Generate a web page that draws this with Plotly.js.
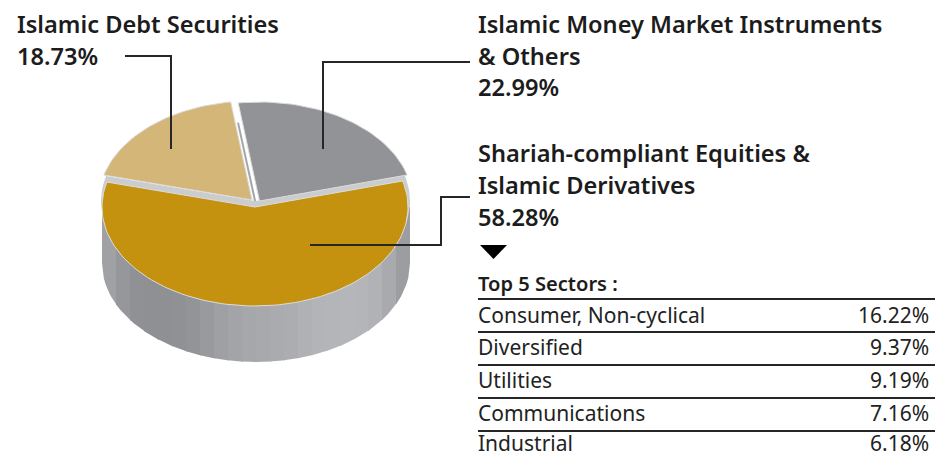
<!DOCTYPE html>
<html><head><meta charset="utf-8">
<script src="https://cdn.plot.ly/plotly-3.0.1.min.js"></script>
<style>html,body{margin:0;padding:0;background:#fff}#c{width:935px;height:458px}</style>
</head><body><div id="c"></div>
<script>
// Data
const sliceNames = ["Islamic Money Market Instruments & Others", "Shariah-compliant Equities & Islamic Derivatives", "Islamic Debt Securities"];
const sliceValues = [22.99, 58.28, 18.73];
const sliceColors = ["#929396", "#c4920e", "#d4b678"];
const sectors = ["Consumer, Non-cyclical", "Diversified", "Utilities", "Communications", "Industrial"];
const sectorValues = ["16.22%", "9.37%", "9.19%", "7.16%", "6.18%"];
const wallShades = ["#a0a1a4","#96979a","#909195","#8f9094","#8f9094","#909195","#939497","#989a9d","#9fa0a3","#a3a4a7","#a6a7aa","#a8a9ac","#aaabae","#acadb0","#b0b1b4","#b3b4b7","#b4b5b8","#b5b6b9","#b4b5b8","#b1b2b5","#a9aaad","#9c9da0"];

// Pie geometry
const rotation = -8, rx = 153, ry = 99, depth = 56;
const centers = [[259.5, 201], [255, 207], [252, 200]];
const deg = Math.PI / 180;
const total = sliceValues.reduce((a, b) => a + b, 0);

function pt(c, a, r) { const q = r || rx; return [c[0] + q * Math.sin(a * deg), c[1] - ry * Math.cos(a * deg)]; }
function wedge(c, a0, a1, r) {
  const pts = [[c[0], c[1]]];
  const n = Math.ceil(Math.abs(a1 - a0) / 2);
  for (let i = 0; i <= n; i++) pts.push(pt(c, a0 + (a1 - a0) * i / n, r));
  pts.push(pts[0]);
  return pts;
}
function poly(pts, color, name, line) {
  return { type: "scatter", mode: "lines", name, x: pts.map(p => p[0]), y: pts.map(p => p[1]), fill: "toself",
           fillcolor: color, line: { color: line || color, width: line ? 1 : 0 }, hoverinfo: "skip", showlegend: false };
}

const traces = [];
// cylinder wall: vertical strips under the front slice
const wc = [256, 207], wrx = 154;
wallShades.forEach((col, i) => {
  const x0 = wc[0] - wrx + i * 2 * wrx / wallShades.length;
  const x1 = Math.min(x0 + 2 * wrx / wallShades.length + 1, wc[0] + wrx);
  const pts = [[x0, wc[1]], [x1, wc[1]]];
  const n = 8;
  for (let k = 0; k <= n; k++) {
    const x = x1 + (x0 - x1) * k / n;
    const u = Math.max(0, 1 - Math.pow((x - wc[0]) / wrx, 2));
    pts.push([x, wc[1] + depth + ry * Math.sqrt(u)]);
  }
  pts.push(pts[0]);
  traces.push(poly(pts, col, "wall"));
});
// slices
let a = rotation;
const wedges = sliceValues.map((v) => { const a0 = a, a1 = a + v / total * 360; a = a1; return [a0, a1]; });
// light inner rim behind the front slice
traces.push(poly(wedge([255.5, 201], wedges[1][0], wedges[1][1], 154.5), "#cbccce", "rim"));
// channel between the two rear slices
const gapA = pt([255.5, 203], rotation), gapB = [255.5, 203];
traces.push({ type: "scatter", mode: "lines", name: "gap", x: [gapB[0] + (gapA[0] - gapB[0]) * 0.02, gapB[0] + (gapA[0] - gapB[0]) * 0.82],
  y: [gapB[1] + (gapA[1] - gapB[1]) * 0.02, gapB[1] + (gapA[1] - gapB[1]) * 0.82], line: { color: "#a5a6a9", width: 2 }, hoverinfo: "skip", showlegend: false });
[0, 2, 1].forEach(i => {
  const [a0, a1] = wedges[i];
  traces.push(poly(wedge(centers[i], a0, a1), sliceColors[i], sliceNames[i], "#dcdcdd"));
});

// Text
const head = { family: "'Noto Sans', sans-serif", size: 23.6, color: "#1c1c1c", weight: 600 };
const body = { family: "'Noto Sans', sans-serif", size: 21, color: "#222222" };
function label(x, y, text, font, anchor) {
  return { x, y, text, font, xref: "x", yref: "y", xanchor: anchor || "left", yanchor: "middle", showarrow: false, align: "left" };
}
const annotations = [
  label(15, 24, "Islamic Debt Securities", head), label(15, 56, "18.73%", head),
  label(476, 24, "Islamic Money Market Instruments", head), label(476, 56, "&amp; Others", head), label(476, 87, "22.99%", head),
  label(476, 153, "Shariah-compliant Equities &amp;", head), label(476, 185, "Islamic Derivatives", head), label(476, 217, "58.28%", head),
  label(476, 283, "Top 5 Sectors :", { family: body.family, size: 20.1, color: "#1c1c1c", weight: 600 })
];
const rowY = [315, 347, 380, 413, 442.5];
sectors.forEach((s, i) => {
  annotations.push(label(476, rowY[i], s, body));
  annotations.push(label(931, rowY[i], sectorValues[i], body, "right"));
});

const leader = (path) => ({ type: "path", path, xref: "x", yref: "y", line: { color: "#262626", width: 2 } });
const shapes = [
  leader("M125,56 L171,56 L171,149"),
  leader("M470,62 L323,62 L323,149"),
  leader("M470,197 L441,197 L441,245 L310,245"),
  { type: "path", path: "M480,245 L507,245 L493.5,259 Z", xref: "x", yref: "y", fillcolor: "#000", line: { width: 0 } }
];
[299, 332, 365, 398, 431].forEach(y => shapes.push({ type: "line", x0: 478, x1: 935, y0: y, y1: y, xref: "x", yref: "y", line: { color: "#262626", width: 2 } }));

Plotly.newPlot("c", traces, {
  width: 935, height: 458, margin: { l: 0, r: 0, t: 0, b: 0 }, paper_bgcolor: "#fff", plot_bgcolor: "#fff", showlegend: false,
  xaxis: { range: [0, 935], visible: false, fixedrange: true },
  yaxis: { range: [458, 0], visible: false, fixedrange: true },
  annotations, shapes
}, { displayModeBar: false, staticPlot: true });
</script></body></html>
